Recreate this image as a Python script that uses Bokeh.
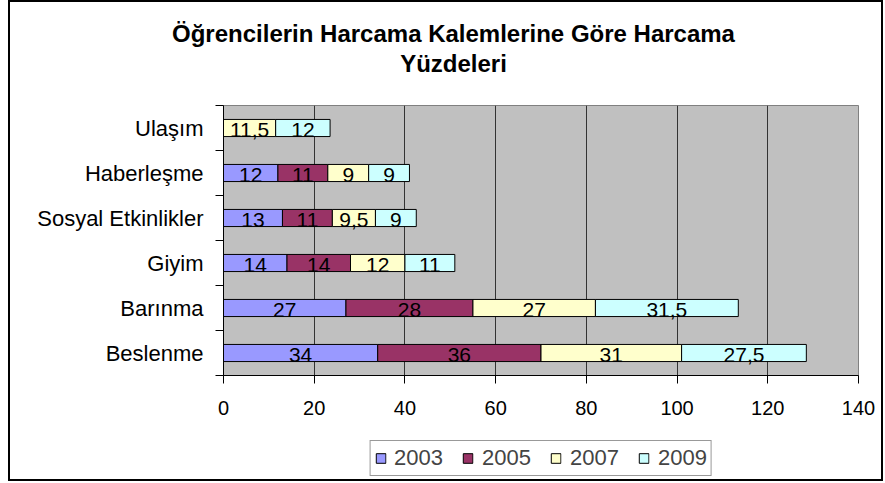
import numpy as np
from bokeh.plotting import figure
from bokeh.layouts import column
from bokeh.models import (Range1d, FixedTicker, ColumnDataSource, Legend, LegendItem, Label)
from bokeh.embed import file_html
from bokeh.resources import INLINE
from bokeh.core.properties import value

categories = ["Beslenme", "Barınma", "Giyim", "Sosyal Etkinlikler", "Haberleşme", "Ulaşım"]
years = ["2003", "2005", "2007", "2009"]
v2003 = [34, 27, 14, 13, 12, 0]
v2005 = [36, 28, 14, 11, 11, 0]
v2007 = [31, 27, 12, 9.5, 9, 11.5]
v2009 = [27.5, 31.5, 11, 9, 9, 12]
series = [v2003, v2005, v2007, v2009]
colors = ["#9999FF", "#993366", "#FFFFCC", "#CCFFFF"]
x_ticks = [0, 20, 40, 60, 80, 100, 120, 140]
title_lines = ["Öğrencilerin Harcama Kalemlerine Göre Harcama", "Yüzdeleri"]

FONT = "Liberation Sans"
W = 871
H_TITLE, H_MAIN, H_LEG = 102, 333, 42
LEFT_BORDER, RIGHT_BORDER = 213, 23

# ---------- title strip (own frame, not aligned with the chart frame) ----------
pt = figure(width=W, height=H_TITLE, output_backend="svg", toolbar_location=None,
            x_axis_type=None, y_axis_type=None, x_range=Range1d(0, 1), y_range=Range1d(0, 1),
            min_border_left=15, min_border_right=0, min_border_top=0, min_border_bottom=0)
if "frame_align" in pt.properties():
    pt.frame_align = False
pt.outline_line_color = None
pt.grid.visible = False
for i, t in enumerate(title_lines):
    pt.add_layout(Label(x=0.5, y=H_TITLE - 31 - 30 * i, y_units="screen",
                        text=t, text_align="center", text_baseline="middle", text_font=FONT,
                        text_font_size="24px", text_font_style="bold", text_color="black"))

# ---------- main chart ----------
ypos = np.arange(len(categories)) + 0.5

p = figure(width=W, height=H_MAIN, output_backend="svg", toolbar_location=None,
           x_range=Range1d(x_ticks[0], x_ticks[-1]), y_range=Range1d(0, len(categories)),
           min_border_left=LEFT_BORDER, min_border_right=RIGHT_BORDER,
           min_border_top=1, min_border_bottom=62)

p.background_fill_color = "#C0C0C0"
p.border_fill_color = "white"
p.outline_line_color = "#808080"
p.outline_line_width = 1

# ---------- legend strip ----------
pl = figure(width=W, height=H_LEG, output_backend="svg", toolbar_location=None,
            x_axis_type=None, y_axis_type=None, x_range=Range1d(x_ticks[0], x_ticks[-1]),
            y_range=Range1d(len(categories) + 1, len(categories) + 2),
            min_border_left=LEFT_BORDER, min_border_right=RIGHT_BORDER,
            min_border_top=0, min_border_bottom=0)
pl.outline_line_color = None
pl.grid.visible = False

def fmt(v):
    return str(int(v)) if float(v).is_integer() else str(v).replace(".", ",")

left = np.zeros(len(categories))
leg_renderers = []
for vals, col in zip(series, colors):
    vals = np.array(vals, dtype=float)
    mask = vals > 0
    src = ColumnDataSource(dict(y=ypos[mask], left=left[mask], right=(left + vals)[mask],
                                mid=(left + vals / 2)[mask],
                                lab=[fmt(v) for v in vals[mask]]))
    p.hbar(y="y", left="left", right="right", height=0.38, source=src,
           fill_color=col, line_color="black", line_width=1)
    p.text(x="mid", y="y", text="lab", source=src, text_align="center",
           text_baseline="middle", text_font=value(FONT), text_font_size="21px",
           text_color="black", y_offset=2)
    # same data in the legend strip (outside its visible range) to supply legend swatches
    leg_renderers.append(pl.hbar(y="y", left="left", right="right", height=0.38, source=src,
                                 fill_color=col, line_color="black", line_width=1))
    left = left + vals

xa = p.xaxis[0]
xa.ticker = FixedTicker(ticks=x_ticks)
xa.major_tick_out = 8
xa.major_tick_in = 0
xa.minor_tick_line_color = None
xa.axis_line_color = "black"
xa.major_tick_line_color = "black"
xa.major_label_text_font = FONT
xa.major_label_text_font_size = "20px"
xa.major_label_text_color = "black"
xa.major_label_standoff = 17

ya = p.yaxis[0]
ya.ticker = FixedTicker(ticks=list(ypos), minor_ticks=list(range(len(categories) + 1)))
ya.major_label_overrides = {float(y): c for y, c in zip(ypos, categories)}
ya.major_tick_line_color = None
ya.major_tick_out = 0
ya.major_tick_in = 0
ya.minor_tick_out = 8
ya.minor_tick_in = 0
ya.minor_tick_line_color = "black"
ya.axis_line_color = "black"
ya.major_label_text_font = FONT
ya.major_label_text_font_size = "22px"
ya.major_label_text_color = "black"
ya.major_label_standoff = 12

p.xgrid.ticker = FixedTicker(ticks=x_ticks)
p.xgrid.grid_line_color = "#333333"
p.xgrid.grid_line_width = 1
p.ygrid.grid_line_color = None

legend = Legend(items=[LegendItem(label=y, renderers=[r]) for y, r in zip(years, leg_renderers)],
                orientation="horizontal", location="center")
legend.glyph_width = 12
legend.glyph_height = 12
legend.label_text_font = FONT
legend.label_text_font_size = "22px"
legend.label_standoff = 8
legend.spacing = 19
legend.padding = 4
legend.margin = 0
legend.border_line_color = "#333333"
legend.border_line_width = 1
legend.background_fill_color = "white"
legend.background_fill_alpha = 1
pl.add_layout(legend)

layout = column(pt, p, pl, spacing=0, margin=(2, 0, 0, 10),
                styles={"outline": "2px solid black", "outline-offset": "0px"})

open("out.html", "w").write(file_html(layout, INLINE))
